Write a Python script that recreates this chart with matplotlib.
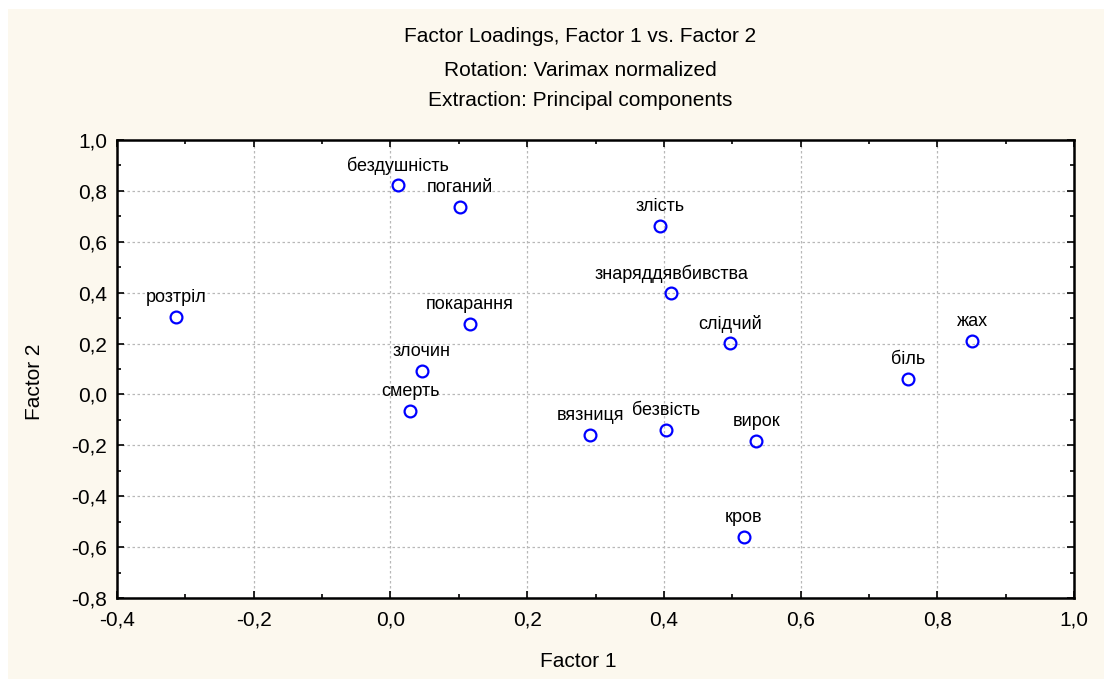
#!/usr/bin/env python3
# -*- coding:utf-8 -*-
from matplotlib import pyplot as plt
from matplotlib.patches import Rectangle
from matplotlib.ticker import MultipleLocator, FuncFormatter

plt.rcParams['font.family'] = ['Liberation Sans', 'DejaVu Sans']

words = ["бездушність", "поганий", "злість", "знаряддявбивства", "розтріл",
         "покарання", "слідчий", "жах", "біль", "злочин", "смерть",
         "вязниця", "безвість", "вирок", "кров"]
factor1 = [0.011, 0.102, 0.394, 0.411, -0.314, 0.116, 0.497, 0.851, 0.757,
           0.046, 0.029, 0.292, 0.403, 0.535, 0.517]
factor2 = [0.823, 0.737, 0.662, 0.399, 0.305, 0.277, 0.202, 0.210, 0.061,
           0.092, -0.065, -0.159, -0.140, -0.183, -0.561]

bg = '#FCF8EE'
fig = plt.figure(figsize=(11.04, 6.79), dpi=100, facecolor='white')
fig.patches.append(Rectangle((8 / 1104, 0), 1, 1 - 9 / 679, transform=fig.transFigure,
                             facecolor=bg, edgecolor='none', zorder=-10))

ax = fig.add_axes([117 / 1104, 81 / 679, 957 / 1104, 458 / 679])
ax.set_facecolor('white')

ax.plot(factor1, factor2, 'o', markersize=8.5, markerfacecolor='none',
        markeredgecolor='#0000FF', markeredgewidth=1.6, zorder=3)
for w, x, y in zip(words, factor1, factor2):
    ax.annotate(w, (x, y), xytext=(0, 14), textcoords='offset points',
                ha='center', va='center', fontsize=13, color='black')

ax.set_xlim(-0.4, 1.0)
ax.set_ylim(-0.8, 1.0)
ax.xaxis.set_major_locator(MultipleLocator(0.2))
ax.xaxis.set_minor_locator(MultipleLocator(0.1))
ax.yaxis.set_major_locator(MultipleLocator(0.2))
ax.yaxis.set_minor_locator(MultipleLocator(0.1))
fmt = FuncFormatter(lambda v, p: ("%.1f" % v).replace('.', ',').replace('-0,0', '0,0'))
ax.xaxis.set_major_formatter(fmt)
ax.yaxis.set_major_formatter(fmt)

ax.tick_params(which='both', direction='in', top=True, right=True,
               labelsize=15, color='black', width=1.2)
ax.tick_params(which='major', length=5)
ax.tick_params(axis='x', which='major', pad=9)
ax.tick_params(axis='y', which='major', pad=7)
ax.tick_params(which='minor', length=3)
ax.grid(True, which='major', linestyle=(0, (2, 2)), color='#B8B8B8', linewidth=0.9)
for s in ax.spines.values():
    s.set_linewidth(1.8)

ax.set_xlabel('Factor 1', fontsize=15)
ax.set_ylabel('Factor 2', fontsize=15)
ax.xaxis.set_label_coords(0.482, -0.1376)
ax.yaxis.set_label_coords(-0.0857, 0.472)
ax.xaxis.label.set_va('center')
ax.yaxis.label.set_va('center')

fig.text(580 / 1104, 1 - 36 / 679, 'Factor Loadings, Factor 1 vs. Factor 2',
         ha='center', va='center', fontsize=15)
fig.text(580 / 1104, 1 - 70 / 679, 'Rotation: Varimax normalized',
         ha='center', va='center', fontsize=15)
fig.text(580 / 1104, 1 - 101 / 679, 'Extraction: Principal components',
         ha='center', va='center', fontsize=15)

fig.savefig('out.png', dpi=100, facecolor=fig.get_facecolor())
